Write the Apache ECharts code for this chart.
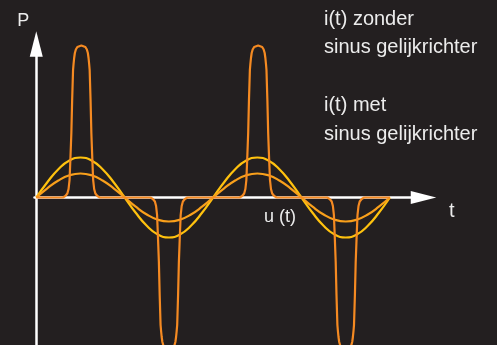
<!DOCTYPE html>
<html>
<head>
<meta charset="utf-8">
<script src="https://cdn.jsdelivr.net/npm/echarts@6/dist/echarts.min.js"></script>
<style>
    html,body{margin:0;padding:0;background:#231f20;}
    #main{width:497px;height:345px;}
</style>
</head>
<body>
<div id="main"></div>
<script>
// tijd in ms (2 perioden van 50 Hz)
var timeMs = [0, 1.25, 2.5, 3.75, 5, 6.25, 7.5, 8.75, 10, 11.25, 12.5, 13.75, 15, 16.25, 17.5, 18.75,
    20, 21.25, 22.5, 23.75, 25, 26.25, 27.5, 28.75, 30, 31.25, 32.5, 33.75, 35, 36.25, 37.5, 38.75, 40];
// grote sinus (geel)
var sineLarge = [0, 0.153, 0.283, 0.370, 0.400, 0.370, 0.283, 0.153, 0, -0.153, -0.283, -0.370, -0.400, -0.370, -0.283, -0.153,
    0, 0.153, 0.283, 0.370, 0.400, 0.370, 0.283, 0.153, 0, -0.153, -0.283, -0.370, -0.400, -0.370, -0.283, -0.153, 0];
// kleine sinus (oranje)
var sineSmall = [0, 0.092, 0.170, 0.222, 0.240, 0.222, 0.170, 0.092, 0, -0.092, -0.170, -0.222, -0.240, -0.222, -0.170, -0.092,
    0, 0.092, 0.170, 0.222, 0.240, 0.222, 0.170, 0.092, 0, -0.092, -0.170, -0.222, -0.240, -0.222, -0.170, -0.092, 0];
// stroompieken zonder gelijkrichter
var spikeCenter = [5.1, 15.0, 25.1, 35.0];
var spikeSign = [1, -1, 1, -1];
var spikeOffset = [0, 0.226, 0.452, 0.622, 0.735, 0.814, 0.882, 0.939, 1.041, 1.131, 1.244, 1.335, 1.448, 1.584, 1.810, 2.093];
var spikeHeight = [1.52, 1.517, 1.505, 1.48, 1.445, 1.395, 1.335, 1.275, 0.975, 0.645, 0.375, 0.175, 0.085, 0.04, 0.015, 0];

var chart = echarts.init(document.getElementById('main'), null, {renderer: 'canvas'});

var largeData = timeMs.map(function (t, i) { return [t, sineLarge[i]]; });
var smallData = timeMs.map(function (t, i) { return [t, sineSmall[i]]; });

var spikeData = [[0, 0]];
for (var s = 0; s < spikeCenter.length; s++) {
    for (var k = spikeOffset.length - 1; k > 0; k--) {
        spikeData.push([spikeCenter[s] - spikeOffset[k], spikeSign[s] * spikeHeight[k]]);
    }
    for (var k = 0; k < spikeOffset.length; k++) {
        spikeData.push([spikeCenter[s] + spikeOffset[k], spikeSign[s] * spikeHeight[k]]);
    }
}
spikeData.push([40, 0]);

var font = '"Liberation Sans", Arial, Helvetica, sans-serif';
var txtColor = '#ececec';

function label(text, x, y, size, align) {
    return {
        type: 'text', x: x, y: y, z: 10,
        style: {
            text: text, fill: txtColor, font: size + 'px ' + font,
            align: align || 'left', verticalAlign: 'middle',
            textAlign: align || 'left', textVerticalAlign: 'middle'
        }
    };
}

var axisLine = {
    show: true,
    onZero: true,
    symbol: ['none', 'triangle'],
    symbolSize: [13, 25.5],
    lineStyle: {color: '#ffffff', width: 2.5}
};

chart.setOption({
    backgroundColor: '#231f20',
    animation: false,
    grid: {left: 34.5, right: 73.5, top: 44, bottom: 0, containLabel: false},
    xAxis: {
        type: 'value', min: -0.2, max: 43.8,
        axisLine: axisLine,
        axisTick: {show: false}, axisLabel: {show: false}, splitLine: {show: false}
    },
    yAxis: {
        type: 'value', min: -1.475, max: 1.535,
        axisLine: axisLine,
        axisTick: {show: false}, axisLabel: {show: false}, splitLine: {show: false}
    },
    series: [
        {
            name: 'sinus groot', type: 'line', data: largeData, smooth: true,
            showSymbol: false, clip: false,
            lineStyle: {color: '#ffc20e', width: 2.2}
        },
        {
            name: 'sinus klein', type: 'line', data: smallData, smooth: true,
            showSymbol: false, clip: false,
            lineStyle: {color: '#f9a01b', width: 2.2}
        },
        {
            name: 'i(t) zonder', type: 'line', data: spikeData, smooth: false,
            showSymbol: false, clip: false,
            lineStyle: {color: '#f58a22', width: 2.2, join: 'round'}
        }
    ],
    graphic: [
        label('P', 23.3, 21.4, 18, 'center'),
        label('i(t) zonder', 324, 19, 20),
        label('sinus gelijkrichter', 324, 47, 20),
        label('i(t) met', 324, 105.7, 20),
        label('sinus gelijkrichter', 324, 134.7, 20),
        label('t', 449, 211.3, 20),
        label('u (t)', 264, 217, 18)
    ]
});
</script>
</body>
</html>
